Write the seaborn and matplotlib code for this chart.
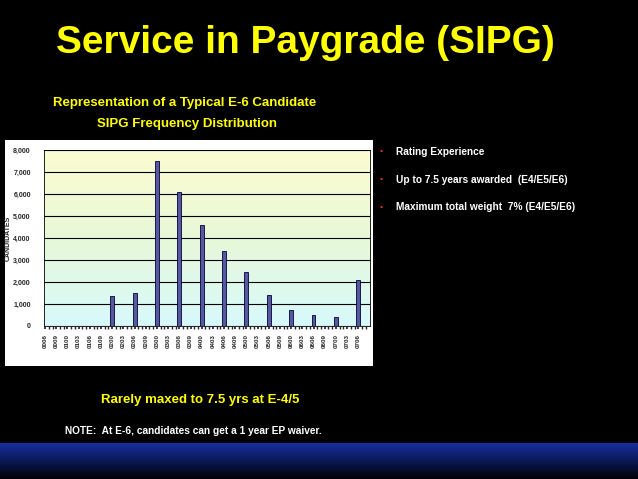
import numpy as np
import pandas as pd
import matplotlib
matplotlib.use("Agg")
import matplotlib.pyplot as plt
import seaborn as sns
from matplotlib.colors import LinearSegmentedColormap

labels = ["0006","0009"] + [f"0{y}{m}" for y in range(1,7) for m in ["00","03","06","09"]] + ["0700","0703","0706"]
bar_values = {"0200":1350,"0206":1500,"0300":7500,"0306":6100,"0400":4600,"0406":3400,
              "0500":2450,"0506":1400,"0600":750,"0606":500,"0700":400,"0706":2100}
values = [bar_values.get(l, 0) for l in labels]
df = pd.DataFrame({"sipg": labels, "candidates": values})

sns.set_theme(style="white")
plt.rcParams['font.family'] = ['Liberation Sans', 'DejaVu Sans']
fig = plt.figure(figsize=(6.38, 4.79), dpi=100)
fig.patch.set_facecolor("black")

bg = fig.add_axes([0, 0, 1, 36/479], zorder=0)
grad = np.linspace(0, 1, 100).reshape(-1, 1)
bg.imshow(grad, aspect="auto", cmap=LinearSegmentedColormap.from_list("b", ["#1530a0", "#000008"]), extent=[0,1,0,1])
bg.axis("off")

panel = fig.add_axes([5/638, 1-366/479, 368/638, 226/479], zorder=1)
panel.set_facecolor("white"); panel.set_xticks([]); panel.set_yticks([])
for s in panel.spines.values(): s.set_visible(False)

ax = fig.add_axes([44/638, 1-326/479, 326/638, 176/479], zorder=2)
n = len(labels)
cmap = LinearSegmentedColormap.from_list("g", ["#d8fafc", "#e8f8d8", "#fcfcd0"])
ax.imshow(np.linspace(0, 1, 100).reshape(-1, 1), aspect="auto", cmap=cmap, origin="lower",
          extent=[-0.1, n+0.05, 0, 8000], zorder=0)
sns.barplot(data=df, x="sipg", y="candidates", color="#4b4ea8", edgecolor="#000040", linewidth=0.6,
            width=0.35, ax=ax, zorder=3)
ax.set_xlim(-0.1, n+0.05); ax.set_ylim(0, 8000)
ax.set_yticks(range(0, 8001, 1000))
ax.set_yticklabels([f"{v:,}" for v in range(0, 8001, 1000)], fontsize=5, fontweight="bold")
ax.yaxis.grid(True, color="black", linewidth=0.8); ax.set_axisbelow(False)
ax.set_xticks(range(n))
ax.set_xticklabels(labels, rotation=90, fontsize=4.5, fontweight="bold")
ax.set_xticks(np.arange(-0.0, n, 1/3), minor=True)
ax.tick_params(axis="x", which="both", length=2, pad=4, bottom=True)
ax.set_xlabel("")
ax.set_ylabel("CANDIDATES", fontsize=5, fontweight="bold")
ax.yaxis.set_label_coords(-0.1, 0.5)
for s in ax.spines.values(): s.set_color("black"); s.set_linewidth(0.6)

fig.text(305/638, 1-43/479, "Service in Paygrade (SIPG)", color="#ffff00", fontsize=28, fontweight="bold", ha="center", va="center")
fig.text(185/638, 1-103/479, "Representation of a Typical E-6 Candidate", color="#ffff00", fontsize=9.5, fontweight="bold", ha="center", va="center")
fig.text(187/638, 1-124/479, "SIPG Frequency Distribution", color="#ffff00", fontsize=9.5, fontweight="bold", ha="center", va="center")
for y, t in [(152, "Rating Experience"), (180, "Up to 7.5 years awarded  (E4/E5/E6)"), (207, "Maximum total weight  7% (E4/E5/E6)")]:
    fig.text(380/638, 1-y/479, "•", color="#ff3030", fontsize=6, va="center")
    fig.text(396/638, 1-y/479, t, color="white", fontsize=7.3, fontweight="bold", va="center")
fig.text(200/638, 1-400/479, "Rarely maxed to 7.5 yrs at E-4/5", color="#ffff00", fontsize=9.5, fontweight="bold", ha="center", va="center")
fig.text(65/638, 1-431/479, "NOTE:  At E-6, candidates can get a 1 year EP waiver.", color="white", fontsize=7.3, fontweight="bold", va="center")

fig.savefig("out.png", dpi=100, facecolor=fig.get_facecolor())
